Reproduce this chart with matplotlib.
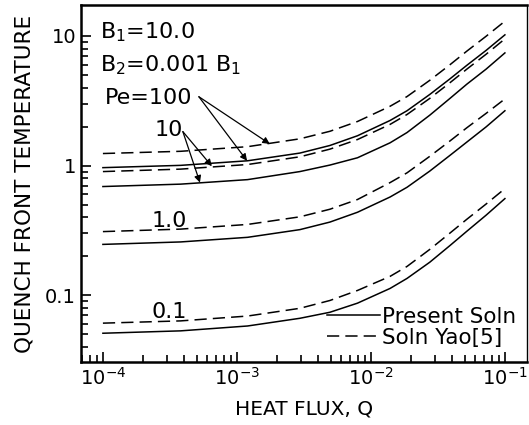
import numpy as np
import matplotlib
matplotlib.use("Agg")
import matplotlib.pyplot as plt

# heat flux values where curves were read
Q = [1e-4, 3.8e-4, 1.2e-3, 2.95e-3, 4.94e-3, 7.94e-3, 1.39e-2,
     1.86e-2, 2.75e-2, 3.89e-2, 5.2e-2, 7.24e-2, 1e-1]

# present solution (solid), keyed by Pe
present_100 = [0.965, 1.005, 1.09, 1.25, 1.43, 1.70, 2.23,
               2.65, 3.54, 4.67, 5.94, 7.74, 10.2]
present_10 = [0.69, 0.72, 0.78, 0.90, 1.01, 1.15, 1.50,
              1.80, 2.45, 3.30, 4.25, 5.55, 7.4]
present_1 = [0.247, 0.258, 0.280, 0.321, 0.367, 0.437, 0.573,
             0.681, 0.908, 1.20, 1.52, 1.99, 2.65]
present_01 = [0.051, 0.0532, 0.058, 0.0665, 0.074, 0.087, 0.113,
              0.135, 0.180, 0.242, 0.312, 0.415, 0.557]

# Yao [5] solution (dashed)
yao_100 = [1.24, 1.29, 1.40, 1.61, 1.84, 2.19, 2.87,
           3.41, 4.55, 6.00, 7.64, 9.95, 13.0]
yao_10 = [0.90, 0.94, 1.02, 1.17, 1.34, 1.59, 2.08,
          2.48, 3.30, 4.36, 5.55, 7.23, 9.5]
yao_1 = [0.31, 0.324, 0.352, 0.403, 0.461, 0.548, 0.74,
         0.88, 1.18, 1.55, 1.96, 2.53, 3.27]
yao_01 = [0.061, 0.0635, 0.0692, 0.0794, 0.0912, 0.109, 0.140,
          0.167, 0.226, 0.302, 0.386, 0.506, 0.665]

plt.rcParams['font.family'] = ['DejaVu Sans']
fig = plt.figure(figsize=(5.29, 4.25), dpi=100)
ax = fig.add_axes([0.153, 0.148, 0.843, 0.84])

for ys in [present_100, present_10, present_1, present_01]:
    ax.plot(Q, ys, color='k', lw=1.1)
for ys in [yao_100, yao_10, yao_1, yao_01]:
    ax.plot(Q, ys, color='k', lw=1.1, dashes=(8, 4))

ax.plot([], [], color='k', lw=1.1, label='Present Soln')
ax.plot([], [], color='k', lw=1.1, dashes=(8, 4), label='Soln Yao[5]')

ax.set_xscale('log')
ax.set_yscale('log')
ax.set_xlim(10**-4.164, 10**-0.836)
ax.set_ylim(10**-1.515, 10**1.238)

ax.set_xticks([1e-4, 1e-3, 1e-2, 1e-1])
ax.set_xticklabels(['10$^{-4}$', '10$^{-3}$', '10$^{-2}$', '10$^{-1}$'])
ax.set_yticks([0.1, 1, 10])
ax.set_yticklabels(['0.1', '1', '10'])
ax.tick_params(which='both', direction='in', top=False, right=False,
               labelsize=14, width=1.2)
ax.tick_params(which='major', length=7)
ax.tick_params(which='minor', length=5)
for s in ['left', 'bottom', 'top']:
    ax.spines[s].set_linewidth(1.8)
ax.spines['right'].set_linewidth(1.0)

ax.set_xlabel('HEAT FLUX, Q', fontsize=14.5, labelpad=8)
ax.set_ylabel('QUENCH FRONT TEMPERATURE', fontsize=15.5)
ax.yaxis.set_label_coords(-0.105, 0.5)

ax.text(9.5e-5, 10.6, 'B$_1$=10.0', fontsize=16, va='center')
ax.text(9.5e-5, 5.98, 'B$_2$=0.001 B$_1$', fontsize=16, va='center')
ax.text(1.03e-4, 3.33, 'Pe=100', fontsize=16, va='center')
ax.text(2.44e-4, 1.89, '10', fontsize=16, va='center')
ax.text(2.32e-4, 0.371, '1.0', fontsize=16, va='center')
ax.text(2.32e-4, 0.074, '0.1', fontsize=16, va='center')

arrow = dict(arrowstyle='-|>', color='k', lw=0.9, mutation_scale=10,
             shrinkA=0, shrinkB=0)
ax.annotate('', xy=(1.76e-3, 1.47), xytext=(5.2e-4, 3.4), arrowprops=arrow)
ax.annotate('', xy=(1.19e-3, 1.09), xytext=(5.2e-4, 3.4), arrowprops=arrow)
ax.annotate('', xy=(6.5e-4, 0.99), xytext=(3.95e-4, 1.83), arrowprops=arrow)
ax.annotate('', xy=(5.3e-4, 0.74), xytext=(3.95e-4, 1.83), arrowprops=arrow)

ax.legend(loc='lower right', frameon=False, fontsize=15.5, handlelength=2.45,
          handletextpad=0.1, labelspacing=0.05, borderaxespad=0.1,
          bbox_to_anchor=(1.0, 0.01))

fig.savefig('out.png', dpi=100)
